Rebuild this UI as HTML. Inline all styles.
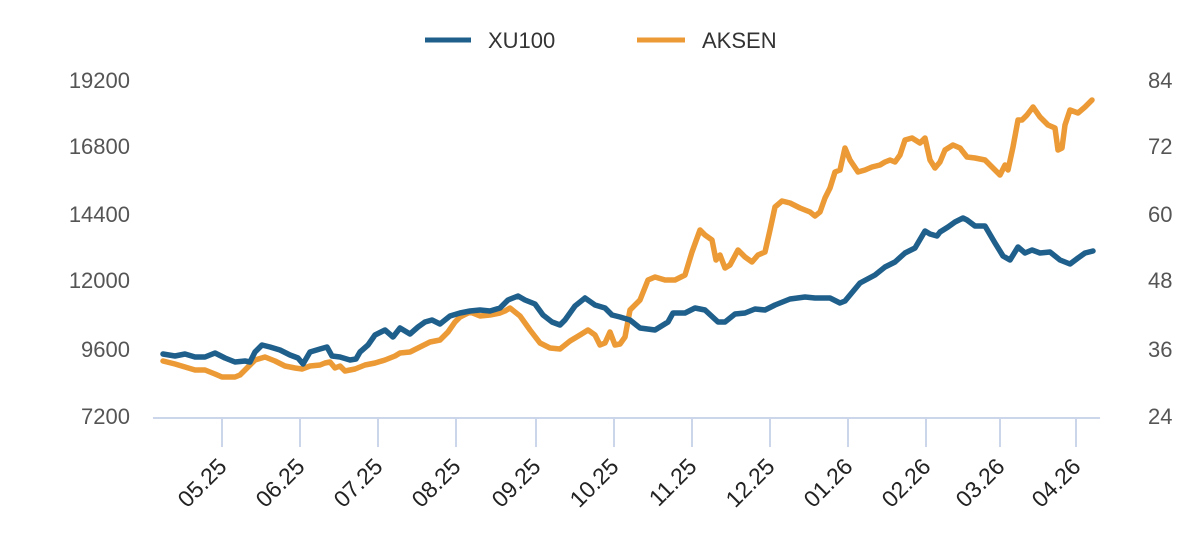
<!DOCTYPE html>
<html><head><meta charset="utf-8"><style>
html,body{margin:0;padding:0;background:#fff;}
svg{display:block;font-family:"Liberation Sans","DejaVu Sans",sans-serif;}
</style></head><body>
<svg width="1200" height="535" viewBox="0 0 1200 535">
<g fill="#555" font-size="22">
<text x="130" y="88" text-anchor="end">19200</text>
<text x="130" y="154" text-anchor="end">16800</text>
<text x="130" y="222" text-anchor="end">14400</text>
<text x="130" y="288" text-anchor="end">12000</text>
<text x="130" y="357" text-anchor="end">9600</text>
<text x="130" y="424" text-anchor="end">7200</text>
<text x="1148" y="88">84</text>
<text x="1148" y="154">72</text>
<text x="1148" y="222">60</text>
<text x="1148" y="288">48</text>
<text x="1148" y="357">36</text>
<text x="1148" y="424">24</text>
</g>
<line x1="153" y1="418" x2="1100" y2="418" stroke="#ccd6eb" stroke-width="2"/>
<g stroke="#ccd6eb" stroke-width="2">
<line x1="222" y1="418" x2="222" y2="447"/><line x1="300" y1="418" x2="300" y2="447"/><line x1="378" y1="418" x2="378" y2="447"/><line x1="456" y1="418" x2="456" y2="447"/><line x1="536" y1="418" x2="536" y2="447"/><line x1="614" y1="418" x2="614" y2="447"/><line x1="692" y1="418" x2="692" y2="447"/><line x1="770" y1="418" x2="770" y2="447"/><line x1="848" y1="418" x2="848" y2="447"/><line x1="926" y1="418" x2="926" y2="447"/><line x1="1000" y1="418" x2="1000" y2="447"/><line x1="1076" y1="418" x2="1076" y2="447"/>
</g>
<g fill="#222" font-size="23" text-anchor="end">
<text transform="translate(228,468) rotate(-45)">05.25</text>
<text transform="translate(306,468) rotate(-45)">06.25</text>
<text transform="translate(384,468) rotate(-45)">07.25</text>
<text transform="translate(462,468) rotate(-45)">08.25</text>
<text transform="translate(542,468) rotate(-45)">09.25</text>
<text transform="translate(620,468) rotate(-45)">10.25</text>
<text transform="translate(698,468) rotate(-45)">11.25</text>
<text transform="translate(776,468) rotate(-45)">12.25</text>
<text transform="translate(854,468) rotate(-45)">01.26</text>
<text transform="translate(932,468) rotate(-45)">02.26</text>
<text transform="translate(1006,468) rotate(-45)">03.26</text>
<text transform="translate(1082,468) rotate(-45)">04.26</text>
</g>
<line x1="425" y1="40" x2="471" y2="40" stroke="#1f5f8b" stroke-width="5"/>
<text x="488" y="48" font-size="22" fill="#333">XU100</text>
<line x1="637" y1="40" x2="685" y2="40" stroke="#ec9a35" stroke-width="5"/>
<text x="702" y="48" font-size="22" fill="#333">AKSEN</text>
<polyline fill="none" stroke="#ec9a35" stroke-width="5.5" stroke-linejoin="round" stroke-linecap="round" points="163,361 175,364 185,367 195,370 205,370 215,374 222,377 235,377 240,375 245,370 255,360 265,357 275,361 285,366 295,368 302,369 310,366 320,365 325,363 330,362 335,368 340,366 345,371 355,369 365,365 375,363 385,360 395,356 400,353 410,352 420,347 430,342 440,340 448,332 455,322 460,317 470,312 480,316 490,315 500,313 505,311 510,308 520,316 530,330 540,343 550,348 560,349 570,341 580,335 588,330 595,335 600,345 605,343 610,332 615,345 620,344 625,337 630,310 640,300 648,280 655,277 665,280 675,280 685,275 692,252 700,230 705,235 712,240 716,260 720,255 725,268 730,265 738,250 745,257 752,262 758,255 765,252 770,230 775,207 782,201 790,203 800,208 810,212 815,216 820,212 825,198 830,188 835,172 840,170 845,148 850,160 858,172 865,170 872,167 880,165 885,162 890,160 895,162 900,155 905,140 912,138 920,143 925,138 930,160 935,168 940,162 945,150 953,145 960,148 967,157 975,158 985,160 995,170 1000,175 1005,165 1008,170 1013,147 1018,120 1022,120 1027,115 1033,107 1040,117 1048,125 1055,128 1058,150 1062,148 1065,125 1070,110 1078,113 1085,107 1092,100"/>
<polyline fill="none" stroke="#1f5f8b" stroke-width="5.5" stroke-linejoin="round" stroke-linecap="round" points="163,354 175,356 185,354 195,357 205,357 215,353 225,358 235,362 245,361 250,362 255,352 262,345 270,347 280,350 290,355 298,358 303,364 310,352 320,349 327,347 332,356 340,357 350,360 356,359 360,352 368,345 375,335 385,330 393,337 400,328 410,334 418,327 425,322 432,320 440,324 450,316 460,313 470,311 480,310 490,311 500,308 508,300 518,296 525,300 535,304 543,315 552,322 560,325 565,320 575,306 585,298 595,305 605,308 612,315 620,317 630,320 640,328 655,330 668,322 673,313 685,313 695,308 705,310 718,322 725,322 735,314 745,313 755,309 765,310 775,305 790,299 805,297 815,298 830,298 840,303 845,301 860,283 875,275 885,267 895,262 905,253 915,248 925,231 930,234 937,236 940,232 948,227 955,222 963,218 967,220 975,226 985,226 995,243 1003,256 1010,260 1018,247 1025,253 1032,250 1040,253 1050,252 1060,260 1070,264 1078,258 1085,253 1093,251"/>
</svg>
</body></html>
